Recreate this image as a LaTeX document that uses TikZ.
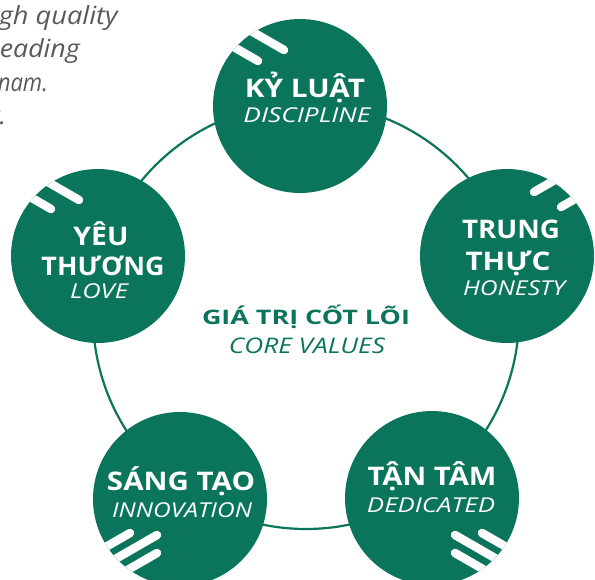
\documentclass[tikz,border=0pt]{standalone}
\usepackage{fontspec}
\usepackage{graphicx}
\setmainfont{Open Sans}
\definecolor{vgreen}{RGB}{11,117,92}
\definecolor{vgray}{RGB}{89,89,89}
\newcommand{\fitw}[2]{\resizebox{#1pt}{\height}{#2}}
\begin{document}
\begin{tikzpicture}[x=1pt,y=-1pt,
  disc/.style={circle,fill=vgreen,draw=none,minimum size=174pt,inner sep=0pt},
  ringline/.style={draw=vgreen,line width=2.2pt},
  bar/.style={draw=white,line width=8.5pt,line cap=round},
  ttl/.style={text=white,font=\bfseries\fontsize{25.6}{28}\selectfont,inner sep=0pt,anchor=base},
  sbt/.style={text=white,font=\itshape\fontsize{20.5}{24}\selectfont,inner sep=0pt,anchor=base},
  ctl/.style={text=vgreen,font=\bfseries\fontsize{20}{24}\selectfont,inner sep=0pt,anchor=base},
  csb/.style={text=vgreen,font=\itshape\fontsize{21.5}{24}\selectfont,inner sep=0pt,anchor=base},
  para/.style={text=vgray,font=\itshape\fontsize{25}{28}\selectfont,inner sep=0pt,anchor=base east}]
\useasboundingbox (0,0) rectangle (595,579);
\clip (0,0) rectangle (595,579);

% paragraph fragment (top left)
\node[para] (p1) at (118,24) {\fitw{119}{gh quality}};
\node[para] (p2) at (80,57.5) {\fitw{80}{eading}};
\node[para] (p3) at (48,91) {\fitw{50}{nam.}};
\node[para] (p4) at (6,124.5) {y.};

% ring
\coordinate (rc) at (306,316);
\draw[ringline] (rc) circle (213);

% discs
\node[disc] (kyluat) at (300,106) {};
\node[disc] (trung) at (507,256) {};
\node[disc] (yeu) at (98,256) {};
\node[disc] (sang) at (180,499) {};
\node[disc] (tan) at (432,498) {};

% white stripes
\begin{scope}
\clip (kyluat.center) circle (87);
\draw[bar] (284,50) -- ++(-52,-30);
\draw[bar] (258,61) -- ++(-52,-30);
\end{scope}
\begin{scope}
\clip (yeu.center) circle (87);
\draw[bar] (79,200) -- ++(-52,-30);
\draw[bar] (51,209) -- ++(-52,-30);
\end{scope}
\begin{scope}
\clip (trung.center) circle (87);
\draw[bar] (534,192) -- ++(52,-30);
\draw[bar] (561,207) -- ++(52,-30);
\end{scope}
\begin{scope}
\clip (sang.center) circle (87);
\draw[bar] (130,533) -- ++(-52,30);
\draw[bar] (157,535) -- ++(-52,30);
\draw[bar] (157,553) -- ++(-52,30);
\end{scope}
\begin{scope}
\clip (tan.center) circle (87);
\draw[bar] (482,533) -- ++(52,30);
\draw[bar] (455,535) -- ++(52,30);
\draw[bar] (455,553) -- ++(52,30);
\end{scope}

% texts
\node[ttl] (t1) at (305,97) {\fitw{120}{KỶ LUẬT}};
\node[sbt] (s1) at (307,122) {\fitw{127}{DISCIPLINE}};
\node[ttl] (t2a) at (511,238) {\fitw{98}{TRUNG}};
\node[ttl] (t2b) at (508,270) {\fitw{85}{THỰC}};
\node[sbt] (s2) at (514,295) {\fitw{102}{HONESTY}};
\node[ttl] (t3a) at (101,245) {\fitw{55}{YÊU}};
\node[ttl] (t3b) at (103,275) {\fitw{123}{THƯƠNG}};
\node[sbt] (s3) at (99,298) {\fitw{58}{LOVE}};
\node[ttl] (t4) at (432,485) {\fitw{129}{TẬN TÂM}};
\node[sbt] (s4) at (431,512) {\fitw{128}{DEDICATED}};
\node[ttl] (t5) at (181,490) {\fitw{148}{SÁNG TẠO}};
\node[sbt] (s5) at (182,517) {\fitw{140}{INNOVATION}};
\node[ctl] (c1) at (306,324) {\fitw{208}{GIÁ TRỊ CỐT LÕI}};
\node[csb] (c2) at (307,353) {\fitw{156}{CORE VALUES}};
\end{tikzpicture}
\end{document}
